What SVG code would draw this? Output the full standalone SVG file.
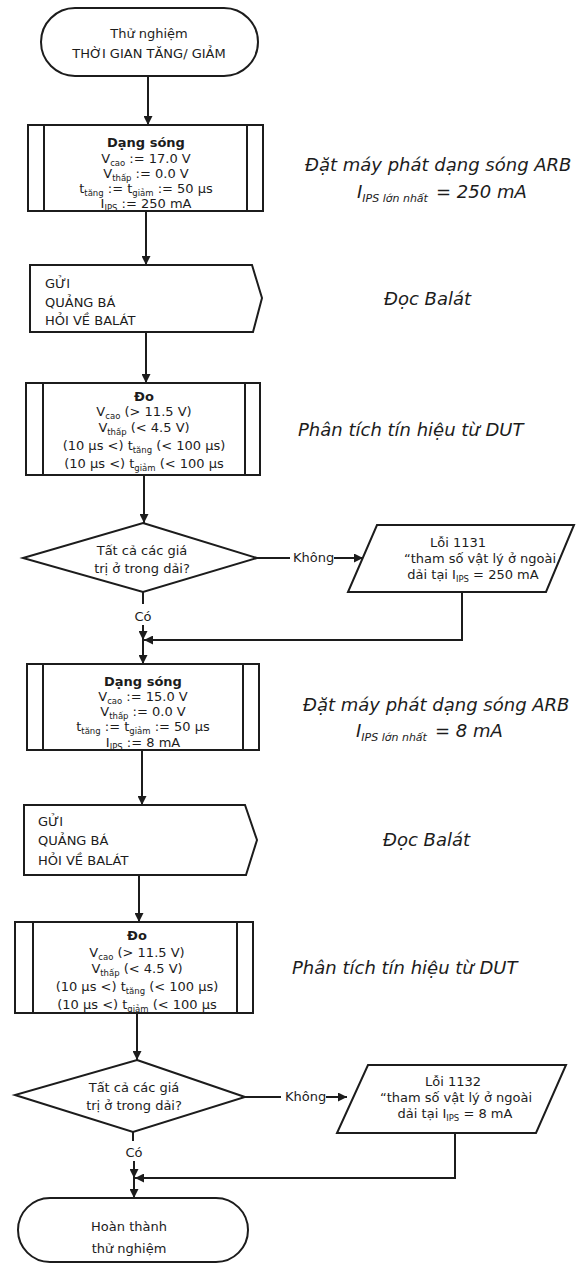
<svg xmlns="http://www.w3.org/2000/svg" width="576" height="1264" viewBox="0 0 576 1264">
<defs>
<style>
.ln{stroke:#1c1c1c;stroke-width:2;fill:none}
.bx{fill:#fff;stroke:#1c1c1c;stroke-width:2}
.t{font-family:"DejaVu Sans","Liberation Sans",sans-serif;fill:#1c1c1c;font-size:13px}
.c{text-anchor:middle}
.b{font-weight:bold}
.side{font-family:"DejaVu Sans","Liberation Sans",sans-serif;font-style:italic;fill:#1c1c1c;font-size:18px}
.sub{font-size:8.5px}
.ssub{font-size:11px}
</style>
<marker id="ah" viewBox="0 0 10 10" refX="10" refY="5" markerWidth="9" markerHeight="9" markerUnits="userSpaceOnUse" orient="auto">
<path d="M0,0 L10,5 L0,10 z" fill="#1c1c1c"/>
</marker>
</defs>
<rect width="576" height="1264" fill="#fff"/>

<g id="connectors">
<path class="ln" d="M148,76 V125" marker-end="url(#ah)"/>
<path class="ln" d="M146,211 V265" marker-end="url(#ah)"/>
<path class="ln" d="M146,332 V383" marker-end="url(#ah)"/>
<path class="ln" d="M144,475 V523" marker-end="url(#ah)"/>
<path class="ln" d="M257,558 H290"/>
<text class="t" x="293" y="562" font-size="12">Không</text>
<path class="ln" d="M334,558 H363" marker-end="url(#ah)"/>
<path class="ln" d="M143,592 V604"/>
<text class="t c" x="143" y="621">Có</text>
<path class="ln" d="M143,625 V640" marker-end="url(#ah)"/>
<path class="ln" d="M462,592 V640 H144" marker-end="url(#ah)"/>
<path class="ln" d="M143,640 V664" marker-end="url(#ah)"/>
<path class="ln" d="M142,750 V805" marker-end="url(#ah)"/>
<path class="ln" d="M139,875 V922" marker-end="url(#ah)"/>
<path class="ln" d="M137,1013 V1060" marker-end="url(#ah)"/>
<path class="ln" d="M245,1097 H281"/>
<text class="t" x="285" y="1101" font-size="12">Không</text>
<path class="ln" d="M326,1097 H347" marker-end="url(#ah)"/>
<path class="ln" d="M133,1132 V1141"/>
<text class="t c" x="134" y="1157">Có</text>
<path class="ln" d="M134,1161 V1178" marker-end="url(#ah)"/>
<path class="ln" d="M455,1133 V1178 H135" marker-end="url(#ah)"/>
<path class="ln" d="M134,1178 V1198" marker-end="url(#ah)"/>
</g>

<g id="start">
<rect class="bx" x="41" y="8" width="217" height="68" rx="34"/>
<text class="t c" x="149" y="38">Thử nghiệm</text>
<text class="t c" x="149" y="58" font-size="15">THỜI GIAN TĂNG/ GIẢM</text>
</g>

<g id="waveform1">
<rect class="bx" x="28" y="125" width="235" height="86"/>
<path class="ln" d="M44,125 V211 M247,125 V211"/>
<text class="t c b" x="146" y="147">Dạng sóng</text>
<text class="t c" x="146" y="163">V<tspan class="sub" dy="3">cao</tspan><tspan dy="-3"> := 17.0 V</tspan></text>
<text class="t c" x="146" y="178">V<tspan class="sub" dy="3">thấp</tspan><tspan dy="-3"> := 0.0 V</tspan></text>
<text class="t c" x="146" y="193">t<tspan class="sub" dy="3">tăng</tspan><tspan dy="-3"> := t</tspan><tspan class="sub" dy="3">giảm</tspan><tspan dy="-3"> := 50 µs</tspan></text>
<text class="t c" x="146" y="208">I<tspan class="sub" dy="3">IPS</tspan><tspan dy="-3"> := 250 mA</tspan></text>
</g>

<g id="note1">
<text class="side" x="305" y="171">Đặt máy phát dạng sóng ARB</text>
<text class="side" x="357" y="198">I<tspan class="ssub" dy="4">IPS lớn nhất</tspan><tspan dy="-4" x="436">= 250 mA</tspan></text>
</g>

<g id="send1">
<path class="bx" d="M30,265 H252 L262,298 L253,332 H30 Z"/>
<text class="t" x="45" y="288" font-size="12.5">GỬI</text>
<text class="t" x="45" y="307" font-size="12.5">QUẢNG BÁ</text>
<text class="t" x="45" y="325" font-size="12.5">HỎI VỀ BALÁT</text>
</g>

<g id="note2">
<text class="side" x="384" y="305">Đọc Balát</text>
</g>

<g id="measure1">
<rect class="bx" x="26" y="383" width="234" height="92"/>
<path class="ln" d="M43,383 V475 M245,383 V475"/>
<text class="t c b" x="144" y="401">Đo</text>
<text class="t c" x="144" y="416">V<tspan class="sub" dy="3">cao</tspan><tspan dy="-3"> (&gt; 11.5 V)</tspan></text>
<text class="t c" x="144" y="432">V<tspan class="sub" dy="3">thấp</tspan><tspan dy="-3"> (&lt; 4.5 V)</tspan></text>
<text class="t c" x="144" y="450">(10 µs &lt;) t<tspan class="sub" dy="3">tăng</tspan><tspan dy="-3"> (&lt; 100 µs)</tspan></text>
<text class="t c" x="144" y="468">(10 µs &lt;) t<tspan class="sub" dy="3">giảm</tspan><tspan dy="-3"> (&lt; 100 µs</tspan></text>
</g>

<g id="note3">
<text class="side" x="298" y="436" font-size="18.5">Phân tích tín hiệu từ DUT</text>
</g>

<g id="decision1">
<polygon class="bx" points="143,523 257,558 143,592 23,558"/>
<text class="t c" x="142" y="555" font-size="12">Tất cả các giá</text>
<text class="t c" x="142" y="573" font-size="12">trị ở trong dải?</text>
</g>

<g id="error1">
<polygon class="bx" points="377,525 574,525 546,592 348,592"/>
<text class="t c" x="458" y="547">Lỗi 1131</text>
<text class="t c" x="480" y="563">“tham số vật lý ở ngoài</text>
<text class="t c" x="473" y="579">dải tại I<tspan class="sub" dy="3">IPS</tspan><tspan dy="-3"> = 250 mA</tspan></text>
</g>

<g id="waveform2">
<rect class="bx" x="27" y="664" width="232" height="86"/>
<path class="ln" d="M43,664 V750 M243,664 V750"/>
<text class="t c b" x="143" y="686">Dạng sóng</text>
<text class="t c" x="143" y="701">V<tspan class="sub" dy="3">cao</tspan><tspan dy="-3"> := 15.0 V</tspan></text>
<text class="t c" x="143" y="716">V<tspan class="sub" dy="3">thấp</tspan><tspan dy="-3"> := 0.0 V</tspan></text>
<text class="t c" x="143" y="731">t<tspan class="sub" dy="3">tăng</tspan><tspan dy="-3"> := t</tspan><tspan class="sub" dy="3">giảm</tspan><tspan dy="-3"> := 50 µs</tspan></text>
<text class="t c" x="143" y="747">I<tspan class="sub" dy="3">IPS</tspan><tspan dy="-3"> := 8 mA</tspan></text>
</g>

<g id="note4">
<text class="side" x="303" y="711">Đặt máy phát dạng sóng ARB</text>
<text class="side" x="356" y="737">I<tspan class="ssub" dy="4">IPS lớn nhất</tspan><tspan dy="-4" x="435">= 8 mA</tspan></text>
</g>

<g id="send2">
<path class="bx" d="M24,805 H245 L257,840 L246,875 H24 Z"/>
<text class="t" x="38" y="826" font-size="12.5">GỬI</text>
<text class="t" x="38" y="845" font-size="12.5">QUẢNG BÁ</text>
<text class="t" x="38" y="865" font-size="12.5">HỎI VỀ BALÁT</text>
</g>

<g id="note5">
<text class="side" x="383" y="846">Đọc Balát</text>
</g>

<g id="measure2">
<rect class="bx" x="15" y="922" width="238" height="91"/>
<path class="ln" d="M33,922 V1013 M237,922 V1013"/>
<text class="t c b" x="137" y="940">Đo</text>
<text class="t c" x="137" y="957">V<tspan class="sub" dy="3">cao</tspan><tspan dy="-3"> (&gt; 11.5 V)</tspan></text>
<text class="t c" x="137" y="973">V<tspan class="sub" dy="3">thấp</tspan><tspan dy="-3"> (&lt; 4.5 V)</tspan></text>
<text class="t c" x="137" y="991">(10 µs &lt;) t<tspan class="sub" dy="3">tăng</tspan><tspan dy="-3"> (&lt; 100 µs)</tspan></text>
<text class="t c" x="137" y="1009">(10 µs &lt;) t<tspan class="sub" dy="3">giảm</tspan><tspan dy="-3"> (&lt; 100 µs</tspan></text>
</g>

<g id="note6">
<text class="side" x="292" y="974" font-size="18.5">Phân tích tín hiệu từ DUT</text>
</g>

<g id="decision2">
<polygon class="bx" points="137,1060 245,1097 133,1132 15,1095"/>
<text class="t c" x="134" y="1092" font-size="12">Tất cả các giá</text>
<text class="t c" x="134" y="1110" font-size="12">trị ở trong dải?</text>
</g>

<g id="error2">
<polygon class="bx" points="368,1065 566,1065 536,1133 337,1133"/>
<text class="t c" x="453" y="1086">Lỗi 1132</text>
<text class="t c" x="456" y="1102">“tham số vật lý ở ngoài</text>
<text class="t c" x="455" y="1118">dải tại I<tspan class="sub" dy="3">IPS</tspan><tspan dy="-3"> = 8 mA</tspan></text>
</g>

<g id="end">
<rect class="bx" x="18" y="1198" width="230" height="64" rx="32"/>
<text class="t c" x="129" y="1231" font-size="16">Hoàn thành</text>
<text class="t c" x="129" y="1253" font-size="16">thử nghiệm</text>
</g>
</svg>
